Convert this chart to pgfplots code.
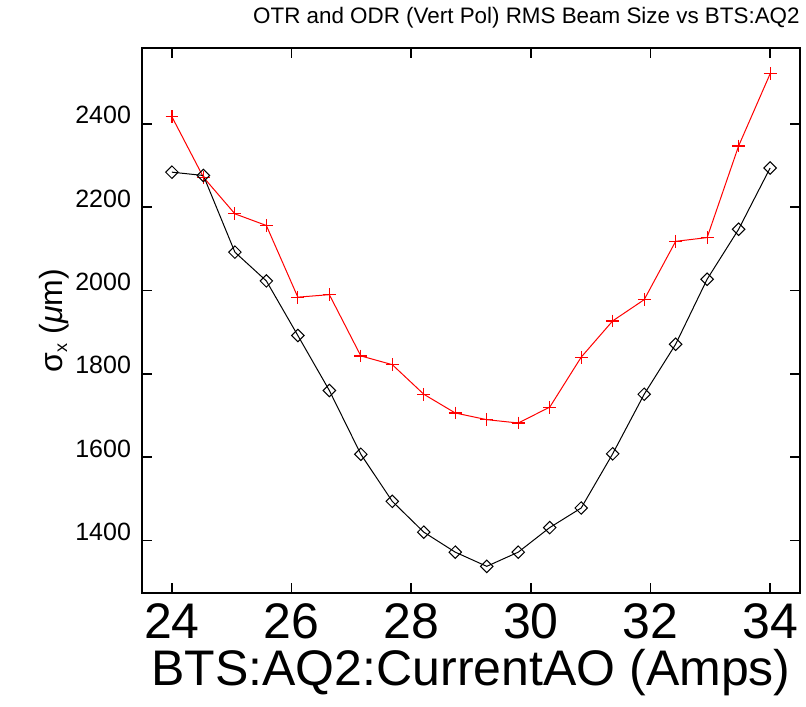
\documentclass[border=0pt]{standalone}
\usepackage{fontspec}
\setmainfont{Liberation Sans}
\usepackage{pgfplots}
\pgfplotsset{compat=1.18}
\begin{document}
\begin{tikzpicture}
\begin{axis}[
  scale only axis, width=329pt, height=272.5pt,
  xmin=23.5, xmax=34.5, ymin=1274, ymax=2582,
  xtick={24,26,28,30,32,34}, ytick={1400,1600,1800,2000,2200,2400},
  tick align=inside, major tick length=5pt,
  axis line style={line width=0.75pt},
  every tick/.style={black, line width=0.75pt},
  /pgf/number format/assume math mode=true,
  /pgf/number format/1000 sep={},
  scaled y ticks=false,
  xticklabel style={font=\fontsize{25}{25}\selectfont, inner sep=0pt, anchor=north, yshift=-5pt},
  yticklabel style={font=\fontsize{12.5}{12.5}\selectfont, anchor=base east, xshift=-2pt},
  xlabel={BTS:AQ2:CurrentAO (Amps)},
  xlabel style={font=\fontsize{25}{25}\selectfont, inner sep=0pt, at={(axis description cs:0.5,0)}, anchor=north, yshift=-28pt},
  ylabel={σ\raisebox{-0.25ex}{\fontsize{9}{9}\selectfont x} ({\itshape μ}m)},
  ylabel style={font=\fontsize{16}{16}\selectfont, yshift=-4pt},
  clip=false,
]
\addplot[red, line width=0.5pt, mark=+, mark size=3.2pt, mark options={line width=0.6pt}] coordinates {
(24.000,2417) (24.526,2272) (25.053,2184) (25.579,2156) (26.105,1984)
(26.632,1990) (27.158,1843) (27.684,1822) (28.211,1751) (28.737,1706)
(29.263,1690) (29.789,1682) (30.316,1720) (30.842,1840) (31.368,1927)
(31.895,1978) (32.421,2118) (32.947,2127) (33.474,2347) (34.000,2520)
};
\addplot[black, line width=0.5pt, mark=square, mark size=2.2pt, mark options={rotate=45, line width=0.5pt}] coordinates {
(24.000,2284) (24.526,2276) (25.053,2092) (25.579,2023) (26.105,1892)
(26.632,1760) (27.158,1607) (27.684,1494) (28.211,1420) (28.737,1372)
(29.263,1338) (29.789,1372) (30.316,1431) (30.842,1478) (31.368,1608)
(31.895,1751) (32.421,1871) (32.947,2027) (33.474,2147) (34.000,2294)
};
\coordinate (SW) at (rel axis cs:0,0);
\coordinate (NE) at (rel axis cs:1,1);
\end{axis}
\node[anchor=base east, font=\fontsize{11.2}{11.2}\selectfont, inner sep=0pt] at ([yshift=12pt]NE) {OTR and ODR (Vert Pol) RMS Beam Size vs BTS:AQ2};
\pgfresetboundingbox
\path[use as bounding box] ([xshift=-71pt,yshift=-56.5pt]SW) rectangle ([xshift=3pt,yshift=24pt]NE);
\end{tikzpicture}
\end{document}
